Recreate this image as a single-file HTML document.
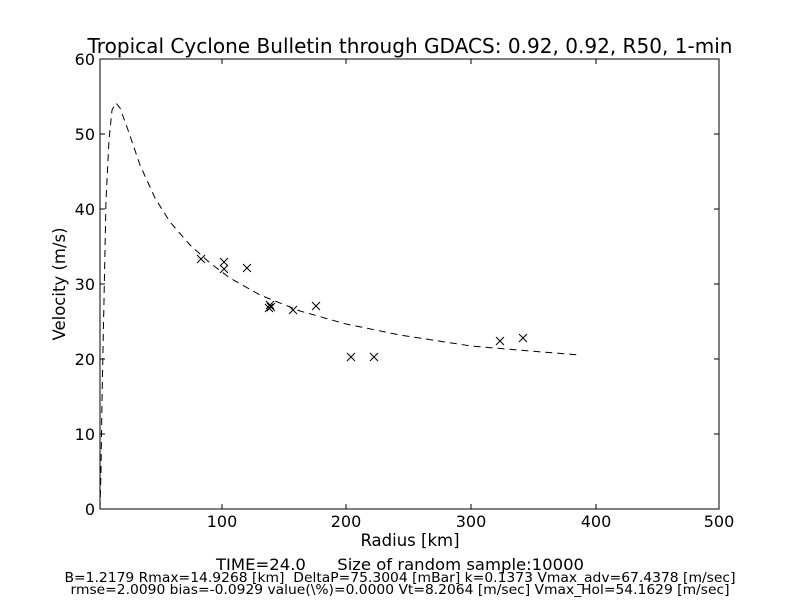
<!DOCTYPE html>
<html><head><meta charset="utf-8"><style>
body{margin:0;background:#fff;}
svg{display:block;font-family:"DejaVu Sans","Liberation Sans",sans-serif;}
</style></head><body>
<svg width="800" height="600" viewBox="0 0 800 600">
<rect width="800" height="600" fill="#fff"/>
<text x="410" y="53" font-size="20" text-anchor="middle" textLength="645" lengthAdjust="spacingAndGlyphs">Tropical Cyclone Bulletin through GDACS: 0.92, 0.92, R50, 1-min</text>
<g stroke="#000" stroke-width="1" fill="none">
<path d="M100,509 L101,470 L102,400 L104,300 L106,200 L109,140 L112,110 L116,103 L120,108 L128,130 L140,165 L155,198 L170,222 L190,245 L210,263 L230,278 L260,295 L300,311 L346,324 L400,335 L471,346 L530,351 L580,355" stroke-dasharray="7,5"/>
<path d="M197,255l8,8m0,-8l-8,8M220,258l8,8m0,-8l-8,8M220,265l8,8m0,-8l-8,8M243,264l8,8m0,-8l-8,8M266,301l8,8m0,-8l-8,8M267,303l8,8m0,-8l-8,8M265,304l8,8m0,-8l-8,8M289,306l8,8m0,-8l-8,8M312,302l8,8m0,-8l-8,8M347,353l8,8m0,-8l-8,8M370,353l8,8m0,-8l-8,8M496,337l8,8m0,-8l-8,8M519,334l8,8m0,-8l-8,8"/>
<rect x="100" y="59" width="619" height="450"/>
<path d="M222,509v-5M346,509v-5M471,509v-5M596,509v-5M222,59v5M346,59v5M471,59v5M596,59v5"/>
<path d="M100,434h5M100,359h5M100,284h5M100,209h5M100,134h5M719,434h-5M719,359h-5M719,284h-5M719,209h-5M719,134h-5"/>
</g>
<g font-size="16" text-anchor="middle">
<text x="222" y="527">100</text><text x="346" y="527">200</text><text x="471" y="527">300</text><text x="596" y="527">400</text><text x="719" y="527">500</text>
</g>
<g font-size="16" text-anchor="end">
<text x="95" y="515">0</text><text x="95" y="440">10</text><text x="95" y="365">20</text><text x="95" y="290">30</text><text x="95" y="215">40</text><text x="95" y="140">50</text><text x="95" y="65">60</text>
</g>
<text x="410" y="546" font-size="16.5" text-anchor="middle">Radius [km]</text>
<text transform="translate(65,284) rotate(-90)" font-size="16.5" text-anchor="middle">Velocity (m/s)</text>
<text x="400" y="570" font-size="16" text-anchor="middle" textLength="368" lengthAdjust="spacingAndGlyphs" xml:space="preserve">TIME=24.0      Size of random sample:10000</text>
<text x="400" y="582" font-size="13.5" text-anchor="middle" textLength="671" lengthAdjust="spacingAndGlyphs" xml:space="preserve">B=1.2179 Rmax=14.9268 [km]  DeltaP=75.3004 [mBar] k=0.1373 Vmax_adv=67.4378 [m/sec]</text>
<text x="400" y="594" font-size="13.5" text-anchor="middle" textLength="659" lengthAdjust="spacingAndGlyphs">rmse=2.0090 bias=-0.0929 value(\%)=0.0000 Vt=8.2064 [m/sec] Vmax_Hol=54.1629 [m/sec]</text>
</svg>
</body></html>
